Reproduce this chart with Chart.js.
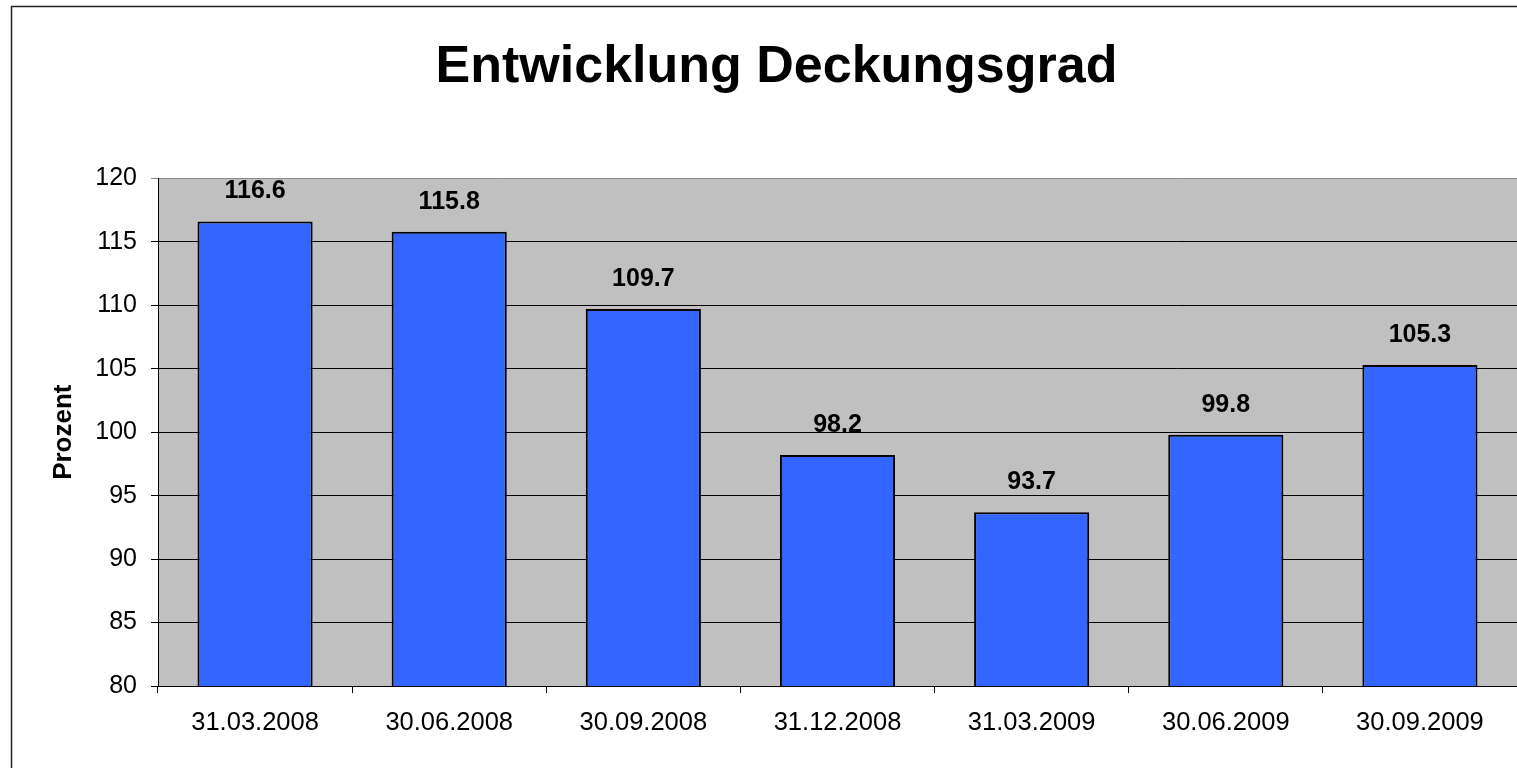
<!DOCTYPE html>
<html>
<head>
<meta charset="utf-8">
<title>Entwicklung Deckungsgrad</title>
<script src="https://cdn.jsdelivr.net/npm/chart.js@4.4.1/dist/chart.umd.min.js"></script>
<style>
  html, body { margin: 0; padding: 0; background: #fff; overflow: hidden; }
  canvas { display: block; }
</style>
</head>
<body>
<canvas id="chart" width="1552" height="768"></canvas>
<script>
// Stichtage und Deckungsgrad in Prozent
const stichtage = ['31.03.2008', '30.06.2008', '30.09.2008', '31.12.2008', '31.03.2009', '30.06.2009', '30.09.2009'];
const deckungsgrad = [116.6, 115.8, 109.7, 98.2, 93.7, 99.8, 105.3];
const yMin = 80;
const yMax = 120;
const yStep = 5;

const FONT = '"Liberation Sans", Arial, sans-serif';
Chart.defaults.font.family = FONT;
Chart.defaults.color = '#000';

// grauer Hintergrund der Zeichenfläche
const plotBackground = {
    id: 'plotBackground',
    beforeDraw(chart) {
        const { ctx, chartArea } = chart;
        ctx.save();
        ctx.fillStyle = '#C0C0C0';
        ctx.fillRect(chartArea.left, chartArea.top, chartArea.right - chartArea.left, chartArea.bottom - chartArea.top);
        ctx.restore();
    }
};

// Rahmen um das ganze Diagramm
const outerBorder = {
    id: 'outerBorder',
    afterDraw(chart) {
        const ctx = chart.ctx;
        ctx.save();
        ctx.strokeStyle = '#222';
        ctx.lineWidth = 1.5;
        ctx.strokeRect(11.5, 6.5, chart.width - 23, chart.height + 20);
        ctx.restore();
    }
};

// Werte über den Balken
const valueLabels = {
    id: 'valueLabels',
    afterDatasetsDraw(chart) {
        const ctx = chart.ctx;
        const meta = chart.getDatasetMeta(0);
        ctx.save();
        ctx.font = 'bold 25px ' + FONT;
        ctx.fillStyle = '#000';
        ctx.textAlign = 'center';
        ctx.textBaseline = 'middle';
        meta.data.forEach(function (bar, i) {
            ctx.fillText(deckungsgrad[i].toFixed(1), bar.x, bar.y - 30);
        });
        ctx.restore();
    }
};

new Chart(document.getElementById('chart').getContext('2d'), {
    type: 'bar',
    data: {
        labels: stichtage,
        datasets: [{
            data: deckungsgrad,
            backgroundColor: '#3366FF',
            borderColor: '#000',
            borderWidth: 2,
            borderSkipped: false,
            categoryPercentage: 1,
            barPercentage: 0.593
        }]
    },
    options: {
        responsive: false,
        animation: false,
        devicePixelRatio: 1,
        layout: { padding: { left: 36, right: 35, top: 0, bottom: 0 } },
        plugins: {
            legend: { display: false },
            tooltip: { enabled: false },
            title: {
                display: true,
                text: 'Entwicklung Deckungsgrad',
                color: '#000',
                font: { size: 52, weight: 'bold' },
                padding: { top: 36, bottom: 80 }
            }
        },
        scales: {
            x: {
                offset: true,
                grid: {
                    offset: true,
                    drawOnChartArea: false,
                    drawTicks: true,
                    tickLength: 7,
                    color: '#000'
                },
                border: { color: '#000', width: 1 },
                ticks: { font: { size: 25.5 }, color: '#000', padding: 15, maxRotation: 0, autoSkip: false },
                afterFit: function (scale) { scale.height = 82; }
            },
            y: {
                min: yMin,
                max: yMax,
                grid: {
                    color: function (c) { return c.tick && c.tick.value === yMax ? '#8C8C8C' : '#000'; },
                    lineWidth: 1,
                    drawTicks: true,
                    tickLength: 7
                },
                border: { color: '#000', width: 1 },
                ticks: { stepSize: yStep, font: { size: 25 }, color: '#000', padding: 14 },
                title: {
                    display: true,
                    text: 'Prozent',
                    color: '#000',
                    font: { size: 26, weight: 'bold' },
                    padding: { top: 12, bottom: 0 }
                },
                afterFit: function (scale) { scale.width = 122; }
            }
        }
    },
    plugins: [plotBackground, valueLabels, outerBorder]
});
</script>
</body>
</html>
